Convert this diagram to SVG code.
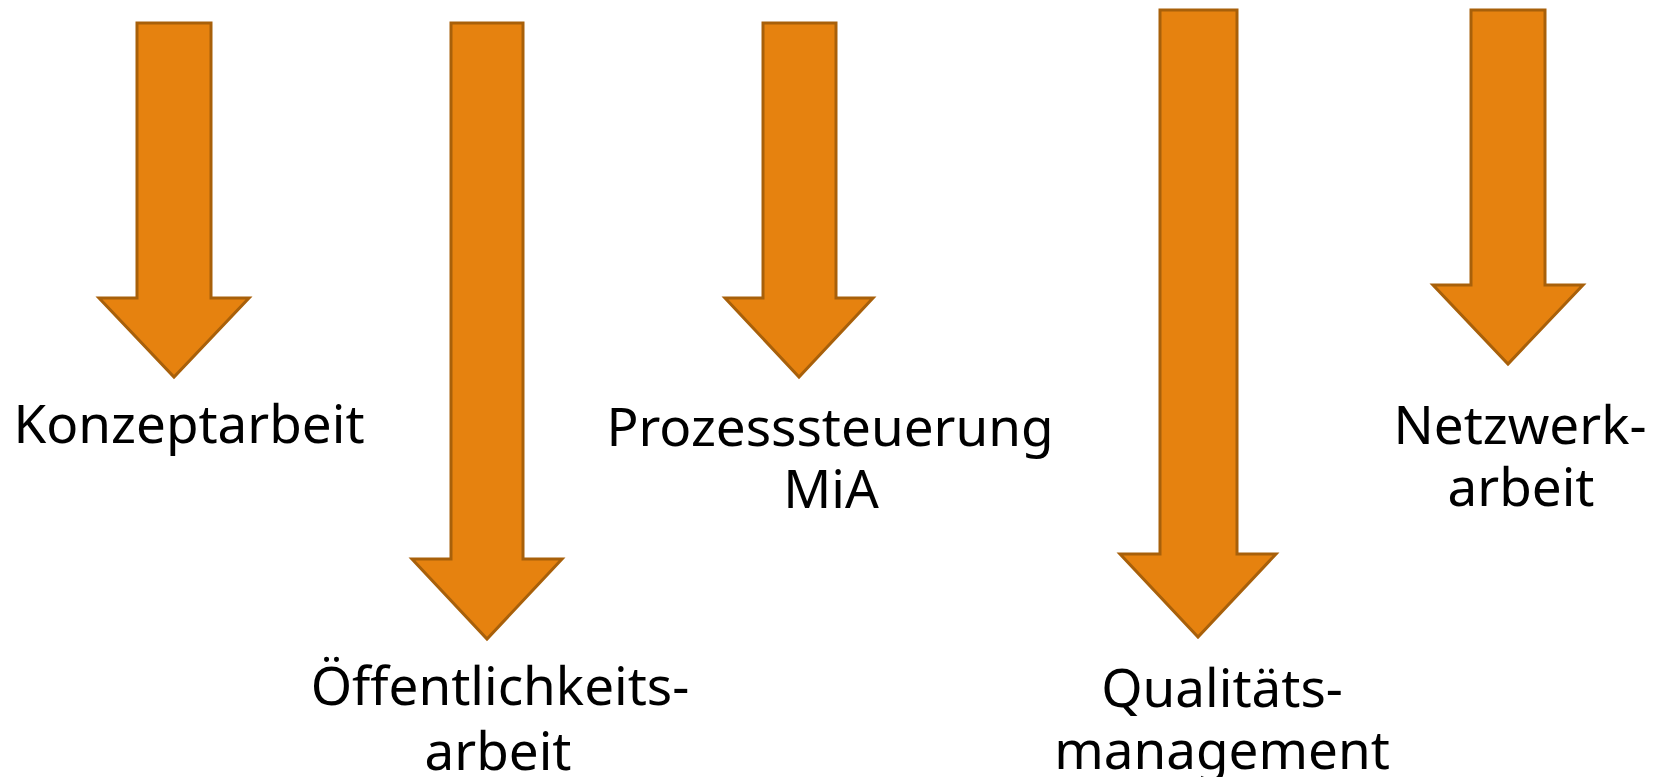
<svg xmlns="http://www.w3.org/2000/svg" width="1662" height="777" viewBox="0 0 1662 777">
<style>
.arrow{fill:#E6820F;stroke:#A8600A;stroke-width:3;stroke-linejoin:miter}
.lbl{font-family:"Noto Sans","Open Sans",sans-serif;font-size:53px;fill:#000;text-anchor:middle}
</style>
<rect width="1662" height="777" fill="#fff"/>
<g id="connectors">
<path class="arrow" d="M137,23 H211 V298 H249 L174,377 L99,298 H137 Z"/>
<path class="arrow" d="M451,23 H523 V559 H562 L487,639 L412,559 H451 Z"/>
<path class="arrow" d="M763,23 H836 V298 H873 L799,377 L725,298 H763 Z"/>
<path class="arrow" d="M1160,10 H1237 V554 H1276 L1198,637 L1120,554 H1160 Z"/>
<path class="arrow" d="M1471,10 H1545 V285 H1583 L1508,364 L1433,285 H1471 Z"/>
</g>
<g id="konzeptarbeit"><text class="lbl" x="189" y="443">Konzeptarbeit</text></g>
<g id="oeffentlichkeitsarbeit"><text class="lbl" x="500" y="705">Öffentlichkeits-</text><text class="lbl" x="498" y="770">arbeit</text></g>
<g id="prozesssteuerung"><text class="lbl" x="830" y="446">Prozesssteuerung</text><text class="lbl" x="831" y="508">MiA</text></g>
<g id="qualitaetsmanagement"><text class="lbl" x="1222" y="707">Qualitäts-</text><text class="lbl" x="1222" y="769">management</text></g>
<g id="netzwerkarbeit"><text class="lbl" x="1520" y="444">Netzwerk-</text><text class="lbl" x="1521" y="506">arbeit</text></g>
</svg>
